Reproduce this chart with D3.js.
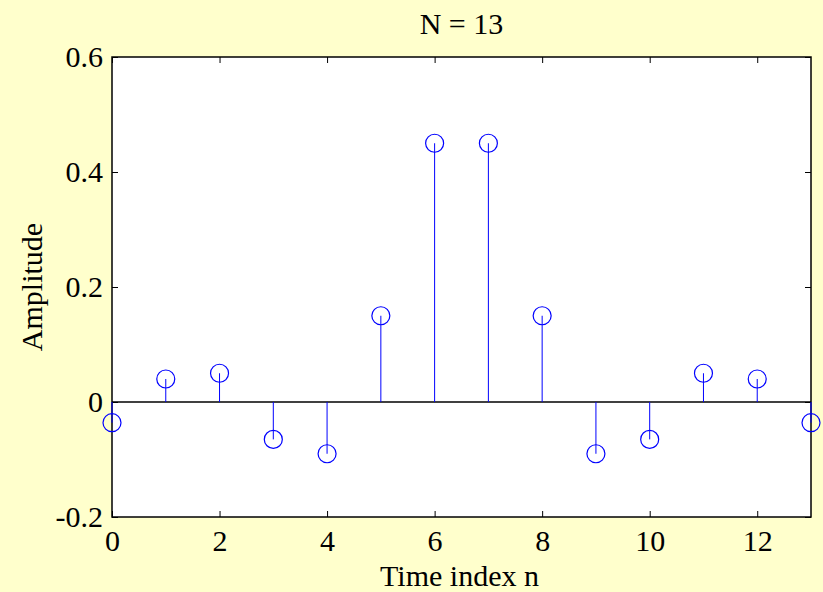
<!DOCTYPE html>
<html>
<head>
<meta charset="utf-8">
<script src="https://cdn.jsdelivr.net/npm/d3@7"></script>
<style>
  body { margin: 0; background: #ffffcc; }
  svg { display: block; }
</style>
</head>
<body>
<script>
// sample index and filter coefficients
const nValues = [0, 1, 2, 3, 4, 5, 6, 7, 8, 9, 10, 11, 12, 13];
const amplitude = [-0.036, 0.04, 0.05, -0.065, -0.09, 0.15, 0.45, 0.45, 0.15, -0.09, -0.065, 0.05, 0.04, -0.036];
const xTicks = [0, 2, 4, 6, 8, 10, 12];
const yTicks = [-0.2, 0, 0.2, 0.4, 0.6];

const W = 823, H = 592;
const FONT = "Liberation Serif, Times New Roman, serif";
const margin = { top: 57, right: 12, bottom: 75, left: 112 },
  width = W - margin.left - margin.right,
  height = H - margin.top - margin.bottom;

const svg = d3.select("body").append("svg")
  .attr("width", W)
  .attr("height", H)
  .attr("font-family", FONT);

svg.append("rect")
  .attr("width", W).attr("height", H)
  .attr("fill", "#ffffcc");

const g = svg.append("g")
  .attr("transform", `translate(${margin.left}, ${margin.top})`);

const x = d3.scaleLinear().domain([0, 13]).range([0, width]);
const y = d3.scaleLinear().domain([-0.2, 0.6]).range([height, 0]);

// white axes box
g.append("rect")
  .attr("width", width).attr("height", height)
  .attr("fill", "#fff");

// matlab style: hyphen minus, bare 0
const fmt = d => d === 0 ? "0" : (d < 0 ? "-" : "") + Math.abs(d).toFixed(1);

const styleText = a => a.attr("font-family", FONT).attr("font-size", 30)
  .selectAll("text").attr("fill", "#000");

// bottom / left axes with inward ticks, top / right ticks only
g.append("g")
  .attr("transform", `translate(0, ${height})`)
  .call(d3.axisBottom(x).tickValues(xTicks).tickSizeInner(-6).tickSizeOuter(0).tickPadding(0).tickFormat(d3.format("d")))
  .call(styleText)
  .call(a => a.selectAll("text").attr("y", 34).attr("dy", null));
g.append("g")
  .call(d3.axisTop(x).tickValues(xTicks).tickSizeInner(-6).tickSizeOuter(0).tickFormat(""));
g.append("g")
  .call(d3.axisLeft(y).tickValues(yTicks).tickSizeInner(-6).tickSizeOuter(0).tickPadding(9).tickFormat(fmt))
  .call(styleText)
  .call(a => a.selectAll("text").attr("dy", "0.33em"));
g.append("g")
  .attr("transform", `translate(${width}, 0)`)
  .call(d3.axisRight(y).tickValues(yTicks).tickSizeInner(-6).tickSizeOuter(0).tickFormat(""));
g.selectAll(".domain").remove();
g.selectAll(".tick line").attr("stroke", "#000");

// box outline
g.append("rect")
  .attr("width", width).attr("height", height)
  .attr("fill", "none")
  .attr("stroke", "#000")
  .attr("stroke-width", 1.5);

// zero baseline
g.append("line")
  .attr("x1", 0).attr("x2", width)
  .attr("y1", y(0)).attr("y2", y(0))
  .attr("stroke", "#000")
  .attr("stroke-width", 1.3);

const data = nValues.map((n, i) => ({ n, v: amplitude[i] }));

// stems
g.selectAll(".stem")
  .data(data)
  .enter().append("line")
  .attr("class", "stem")
  .attr("x1", d => x(d.n)).attr("x2", d => x(d.n))
  .attr("y1", y(0)).attr("y2", d => y(d.v))
  .attr("stroke", "#0000ff")
  .attr("stroke-width", 1);

// markers
g.selectAll(".dot")
  .data(data)
  .enter().append("circle")
  .attr("class", "dot")
  .attr("cx", d => x(d.n))
  .attr("cy", d => y(d.v))
  .attr("r", 9)
  .attr("fill", "none")
  .attr("stroke", "#0000ff")
  .attr("stroke-width", 1.2);

// title and labels
svg.append("text")
  .attr("x", margin.left + width / 2)
  .attr("y", 34)
  .attr("text-anchor", "middle")
  .attr("font-size", 30)
  .text("N = 13");

svg.append("text")
  .attr("x", margin.left + width / 2 - 2)
  .attr("y", 586)
  .attr("text-anchor", "middle")
  .attr("font-size", 30)
  .text("Time index n");

svg.append("text")
  .attr("transform", `translate(42, ${margin.top + height / 2}) rotate(-90)`)
  .attr("text-anchor", "middle")
  .attr("font-size", 30)
  .text("Amplitude");
</script>
</body>
</html>
